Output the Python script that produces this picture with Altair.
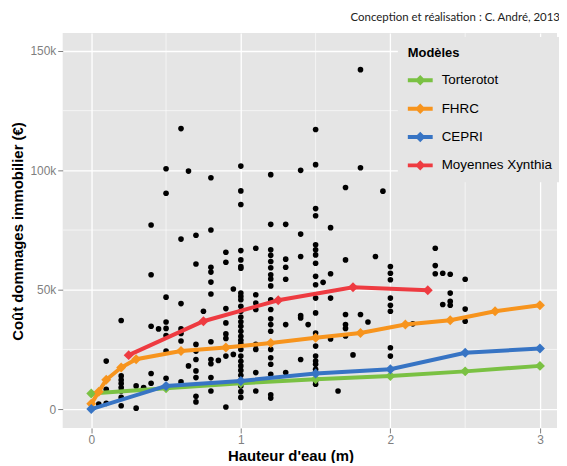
import altair as alt
import pandas as pd

# ---- Model curves (cost in k€) ----
model_names = ["Torterotot", "FHRC", "CEPRI", "Moyennes Xynthia"]
model_colors = ["#7AC143", "#F7941D", "#3774C4", "#EE3B41"]

tort_x = [0, 0.5, 1, 1.5, 2, 2.5, 3]
tort_y = [6.5, 8.7, 10.8, 12.5, 13.9, 15.8, 18.1]

fhrc_x = [0, 0.05, 0.1, 0.2, 0.3, 0.6, 0.9, 1.2, 1.5, 1.8, 2.1, 2.4, 2.7, 3.0]
fhrc_y = [2.2, 7.3, 12.3, 17.4, 20.9, 24.3, 25.8, 27.7, 29.9, 31.9, 35.4, 37.2, 41.0, 43.5]

cepri_x = [0, 0.5, 1, 1.5, 2, 2.5, 3]
cepri_y = [0, 9.7, 11.8, 14.9, 16.7, 23.6, 25.4]

xyn_x = [0.25, 0.75, 1.25, 1.75, 2.25]
xyn_y = [22.6, 36.8, 45.6, 51.0, 49.8]

# ---- Observed damages (depth -> costs in k€) ----
obs = {
    0.05: [2.1],
    0.1: [20.1, 8.3, 2.4],
    0.2: [37.1, 13.9, 12.2, 10.7, 9.0, 7.6, 4.9, 1.4],
    0.3: [9.7, 0.4],
    0.35: [9.0],
    0.4: [77.1, 56.3, 34.7, 14.9, 10.8],
    0.45: [33.6],
    0.5: [100.7, 90.4, 46.9, 36.5, 33.8, 30.8, 24.3, 12.9],
    0.6: [117.5, 71.2, 44.2, 33.6, 31.7, 28.5, 11.4],
    0.65: [99.7, 18.1],
    0.7: [72.8, 60.8, 27.1, 24.3, 20.8, 16.0, 13.2, 5.4, 3.0],
    0.75: [41.0],
    0.8: [96.9, 75.0, 59.4, 57.4, 53.2, 48.2, 28.2, 20.8, 19.0, 13.2, 7.6],
    0.85: [20.4],
    0.9: [65.7, 61.5, 42.1, 36.1, 31.5, 29.6, 22.2, 0.9],
    0.95: [50.3, 22.9],
    1.0: [101.8, 91.4, 85.7, 66.4, 62.5, 59.7, 59.0, 48.6, 47.2, 45.8, 43.1, 41.0,
          38.6, 36.6, 34.7, 32.6, 30.5, 28.8, 27.4, 25.0, 22.2, 20.0, 18.1, 16.2,
          14.2, 12.0, 9.7, 7.3, 4.9],
    1.1: [67.4, 47.9, 44.4, 41.7, 27.1, 25.0, 15.3, 7.6],
    1.2: [98.2, 77.4, 66.7, 64.4, 61.8, 59.2, 56.3, 54.5, 51.6, 45.8, 41.7, 37.8,
          35.4, 32.6, 25.0, 21.5, 18.8, 14.6, 6.0, 4.6],
    1.3: [77.4, 62.8, 59.4, 54.4, 35.4, 15.3],
    1.4: [100.0, 73.3, 63.9, 39.2, 38.2, 20.8],
    1.45: [35.4],
    1.5: [117.1, 102.4, 84.0, 81.0, 68.8, 66.7, 64.6, 61.1, 55.6, 52.1, 46.5, 40.3,
          31.9, 29.9, 26.4, 22.2, 20.1, 18.8, 16.7, 11.8, 10.4],
    1.55: [53.1],
    1.6: [76.0, 56.7, 46.5, 29.4],
    1.65: [7.6],
    1.7: [92.8, 62.5, 39.6, 35.4, 33.8, 30.6],
    1.75: [22.7],
    1.8: [142.2, 101.1, 39.6],
    1.85: [36.5],
    1.9: [63.9],
    1.95: [91.3],
    2.0: [59.7, 56.9, 54.2, 46.5, 43.5, 41.0, 25.7, 22.2],
    2.15: [35.7],
    2.3: [67.4, 60.1, 56.7],
    2.35: [56.9, 43.8],
    2.4: [56.5, 48.6, 45.1, 43.5],
    2.5: [54.4, 41.9, 36.8],
}

x_ticks = [0, 1, 2, 3]
y_ticks = [0, 50000, 100000, 150000]
minor_x = [0.5, 1.5, 2.5]
minor_y = [25000, 75000, 125000]

# ---- tables ----
scatter_df = pd.DataFrame(
    [{"h": d, "cost": v * 1000} for d, vals in obs.items() for v in vals]
)
series = [
    (model_names[0], tort_x, tort_y),
    (model_names[1], fhrc_x, fhrc_y),
    (model_names[2], cepri_x, cepri_y),
    (model_names[3], xyn_x, xyn_y),
]
model_df = pd.DataFrame(
    [{"model": n, "h": x, "cost": y * 1000} for n, xs, ys in series for x, y in zip(xs, ys)]
)

x_scale = alt.Scale(domain=[-0.191, 3.114], nice=False, zero=False)
y_scale = alt.Scale(domain=[-7900, 157500], nice=False, zero=False)
color_scale = alt.Scale(domain=model_names, range=model_colors)

x_axis = alt.Axis(values=x_ticks, format="d", title="Hauteur d'eau (m)",
                  titleX=229, titlePadding=3)
y_axis = alt.Axis(values=y_ticks, title="Coût dommages immobilier (€)",
                  labelExpr="datum.value == 0 ? '0' : format(datum.value/1000, 'd') + 'k'",
                  titleY=199, titlePadding=4)

X = alt.X("h:Q", scale=x_scale, axis=x_axis)
Y = alt.Y("cost:Q", scale=y_scale, axis=y_axis)

legend_path = ("M-1,-0.16L-0.26,-0.16L0,-0.42L0.26,-0.16L1,-0.16L1,0.16"
               "L0.26,0.16L0,0.42L-0.26,0.16L-1,0.16Z")
legend = alt.Legend(
    title="Modèles", orient="none", legendX=337, legendY=4,
    fillColor="#E5E5E5", padding=10,
    titleFont="Liberation Sans", titleFontSize=13, titleFontWeight="bold",
    titleColor="black", titlePadding=8,
    labelFont="Liberation Sans", labelFontSize=13.5, labelColor="black",
    labelOffset=9, symbolType=legend_path, symbolSize=625,
    symbolStrokeWidth=0, rowPadding=9.5, symbolOpacity=1,
)

minor_v = alt.Chart(pd.DataFrame({"h": minor_x})).mark_rule(
    color="white", strokeWidth=0.6).encode(x=X)
minor_h = alt.Chart(pd.DataFrame({"cost": minor_y})).mark_rule(
    color="white", strokeWidth=0.6).encode(y=Y)

scatter = alt.Chart(scatter_df).mark_circle(size=32, color="black", opacity=1).encode(x=X, y=Y)

layers = [minor_v, minor_h, scatter]
for name, col in zip(model_names, model_colors):
    base = alt.Chart(model_df).transform_filter(alt.datum.model == name)
    layers.append(base.mark_line(strokeWidth=4, color=col).encode(x=X, y=Y))
    layers.append(base.mark_point(shape="diamond", filled=True, size=100, opacity=1).encode(
        x=X, y=Y, color=alt.Color("model:N", scale=color_scale, legend=legend)))

chart = alt.layer(*layers).properties(
    width=497, height=397,
    autosize="none",
    padding={"left": 55, "top": 24, "right": 2, "bottom": 34},
    title=alt.TitleParams(
        "Conception et réalisation : C. André, 2013", anchor="end",
        font="Lato", fontSize=11.5, fontWeight="normal", color="#222222",
        offset=9, dx=-3),
).configure_view(fill="#E5E5E5", strokeWidth=0).configure_axis(
    labelFont="Liberation Sans", labelFontSize=12, labelColor="#7F7F7F",
    tickColor="#7F7F7F", tickSize=5, domain=False, labelPadding=2,
    gridColor="white", gridWidth=1.3, gridOpacity=1,
    titleFont="Liberation Sans", titleFontSize=15, titleFontWeight="bold",
    titleColor="black",
)

chart.save("out.html", embed_options={"renderer": "svg", "actions": False})
